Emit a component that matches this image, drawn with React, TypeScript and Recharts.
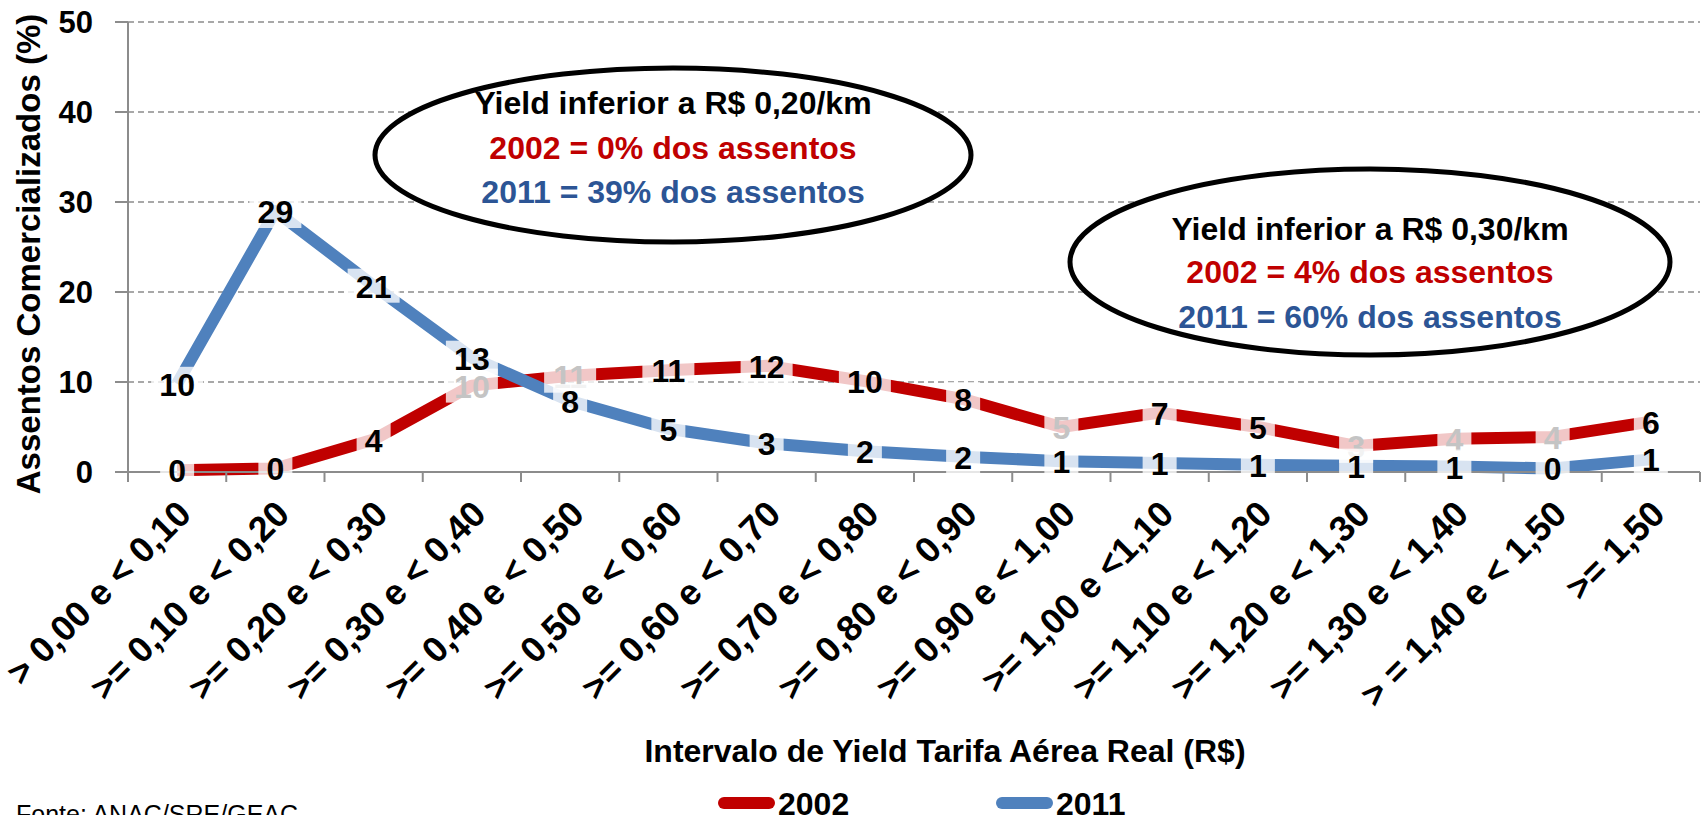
import { LineChart, Line, XAxis, YAxis, CartesianGrid, LabelList } from "recharts";

const categories = [
  "> 0,00 e < 0,10",
  ">= 0,10 e < 0,20",
  ">= 0,20 e < 0,30",
  ">= 0,30 e < 0,40",
  ">= 0,40 e < 0,50",
  ">= 0,50 e < 0,60",
  ">= 0,60 e < 0,70",
  ">= 0,70 e < 0,80",
  ">= 0,80 e < 0,90",
  ">= 0,90 e < 1,00",
  ">= 1,00 e <1,10",
  ">= 1,10 e < 1,20",
  ">= 1,20 e < 1,30",
  ">= 1,30 e < 1,40",
  "> = 1,40 e < 1,50",
  ">= 1,50",
];

const values2002 = [0.2, 0.4, 3.6, 9.6, 10.7, 11.3, 11.8, 10.1, 8.1, 5.0, 6.6, 5.0, 2.9, 3.7, 3.9, 5.6];
const values2011 = [9.8, 29.0, 20.7, 12.7, 7.9, 4.8, 3.2, 2.3, 1.7, 1.2, 1.0, 0.8, 0.7, 0.6, 0.4, 1.4];

const seriesNames = ["2002", "2011"];

// labels of the 2002 series that are drawn in light grey in the original
const faded2002 = [3, 4, 9, 12, 13, 14];

const yTicks = [0, 10, 20, 30, 40, 50];
const xTicks = Array.from({ length: categories.length + 1 }, (_, i) => i);

const data = categories.map((c, i) => ({
  x: i + 0.5,
  name: c,
  y2002: values2002[i],
  y2011: values2011[i],
}));

const W = 1706;
const H = 815;
const LEFT = 128;
const RIGHT = 6;
const X_AXIS_H = 30;
const BAND = (W - LEFT - RIGHT) / categories.length;

const FONT = "'Liberation Sans', Arial, sans-serif";
const RED = "#C00000";
const BLUE = "#4F81BD";
const TEXT_BLUE = "#2C5595";
const GRID = "#8C8C8C";

function CategoryTick({ x, y, payload }: any) {
  const i = payload.value;
  if (i >= categories.length) return null;
  const cx = x + BAND / 2 + 16;
  const cy = y + 32;
  return (
    <text
      x={cx}
      y={cy}
      transform={`rotate(-45 ${cx} ${cy})`}
      textAnchor="end"
      fontFamily={FONT}
      fontWeight="bold"
      fontSize={36}
      fill="#000"
    >
      {categories[i]}
    </text>
  );
}

function makeLabel(series: string) {
  return (props: any) => {
    const { x, y, value, index } = props;
    const txt = String(Math.round(value));
    const w = txt.length * 18 + 16;
    const faded = series === "2002" && faded2002.includes(index);
    return (
      <g>
        <rect x={x - w / 2} y={y - 17} width={w} height={34} fill="#fff" fillOpacity={0.78} />
        <text
          x={x}
          y={y + 12}
          textAnchor="middle"
          fontFamily={FONT}
          fontWeight="bold"
          fontSize={32}
          fill={faded ? "#C4C4C4" : "#000"}
        >
          {txt}
        </text>
      </g>
    );
  };
}

const legendColors = [RED, BLUE];
const legendLeft = [718, 996];

export default function App() {
  return (
    <div style={{ position: "absolute", left: 0, top: 0, width: W, height: H, overflow: "hidden", background: "#fff" }}>
      <LineChart
        width={W}
        height={H}
        data={data}
        margin={{ top: 22, right: RIGHT, bottom: 343 - X_AXIS_H, left: 0 }}
      >
        <CartesianGrid vertical={false} stroke={GRID} strokeWidth={1.5} strokeDasharray="6 4" />
        <XAxis
          dataKey="x"
          type="number"
          domain={[0, categories.length]}
          ticks={xTicks}
          interval={0}
          tick={<CategoryTick />}
          tickSize={10}
          stroke={GRID}
          strokeWidth={2}
          height={X_AXIS_H}
        />
        <YAxis
          domain={[0, 50]}
          ticks={yTicks}
          width={LEFT}
          tickSize={13}
          tickMargin={22}
          stroke={GRID}
          strokeWidth={2}
          tick={{ fontFamily: FONT, fontWeight: "bold", fontSize: 31, fill: "#000" }}
        />
        <Line
          name={seriesNames[0]}
          dataKey="y2002"
          stroke={RED}
          strokeWidth={12}
          strokeLinejoin="round"
          dot={false}
          isAnimationActive={false}
        >
          <LabelList dataKey="y2002" content={makeLabel("2002")} />
        </Line>
        <Line
          name={seriesNames[1]}
          dataKey="y2011"
          stroke={BLUE}
          strokeWidth={12}
          strokeLinejoin="round"
          dot={false}
          isAnimationActive={false}
        >
          <LabelList dataKey="y2011" content={makeLabel("2011")} />
        </Line>
      </LineChart>
      <svg width={W} height={H} style={{ position: "absolute", left: 0, top: 0, pointerEvents: "none" }}>
        <text
          x={28}
          y={254}
          transform="rotate(-90 28 254)"
          textAnchor="middle"
          dominantBaseline="central"
          fontFamily={FONT}
          fontWeight="bold"
          fontSize={33}
        >
          Assentos Comercializados (%)
        </text>
        <text x={945} y={762} textAnchor="middle" fontFamily={FONT} fontWeight="bold" fontSize={32}>
          Intervalo de Yield Tarifa Aérea Real (R$)
        </text>
        <text x={16} y={823} fontFamily={FONT} fontSize={25}>
          Fonte: ANAC/SRE/GEAC
        </text>

        {seriesNames.map((s, i) => (
          <g key={s}>
            <rect x={legendLeft[i]} y={797} width={57} height={12} rx={6} fill={legendColors[i]} />
            <text x={legendLeft[i] + 60} y={815} fontFamily={FONT} fontWeight="bold" fontSize={32}>
              {s}
            </text>
          </g>
        ))}

        <ellipse cx={673} cy={155} rx={298} ry={87} fill="#fff" stroke="#000" strokeWidth={5} />
        <g fontFamily={FONT} fontWeight="bold" fontSize={32} textAnchor="middle">
          <text x={673} y={114} fill="#000">Yield inferior a R$ 0,20/km</text>
          <text x={673} y={159} fill={RED}>2002 = 0% dos assentos</text>
          <text x={673} y={203} fill={TEXT_BLUE}>2011 = 39% dos assentos</text>
        </g>

        <ellipse cx={1370} cy={262} rx={300} ry={93} fill="#fff" stroke="#000" strokeWidth={5} />
        <g fontFamily={FONT} fontWeight="bold" fontSize={32} textAnchor="middle">
          <text x={1370} y={240} fill="#000">Yield inferior a R$ 0,30/km</text>
          <text x={1370} y={283} fill={RED}>2002 = 4% dos assentos</text>
          <text x={1370} y={328} fill={TEXT_BLUE}>2011 = 60% dos assentos</text>
        </g>
      </svg>
    </div>
  );
}
